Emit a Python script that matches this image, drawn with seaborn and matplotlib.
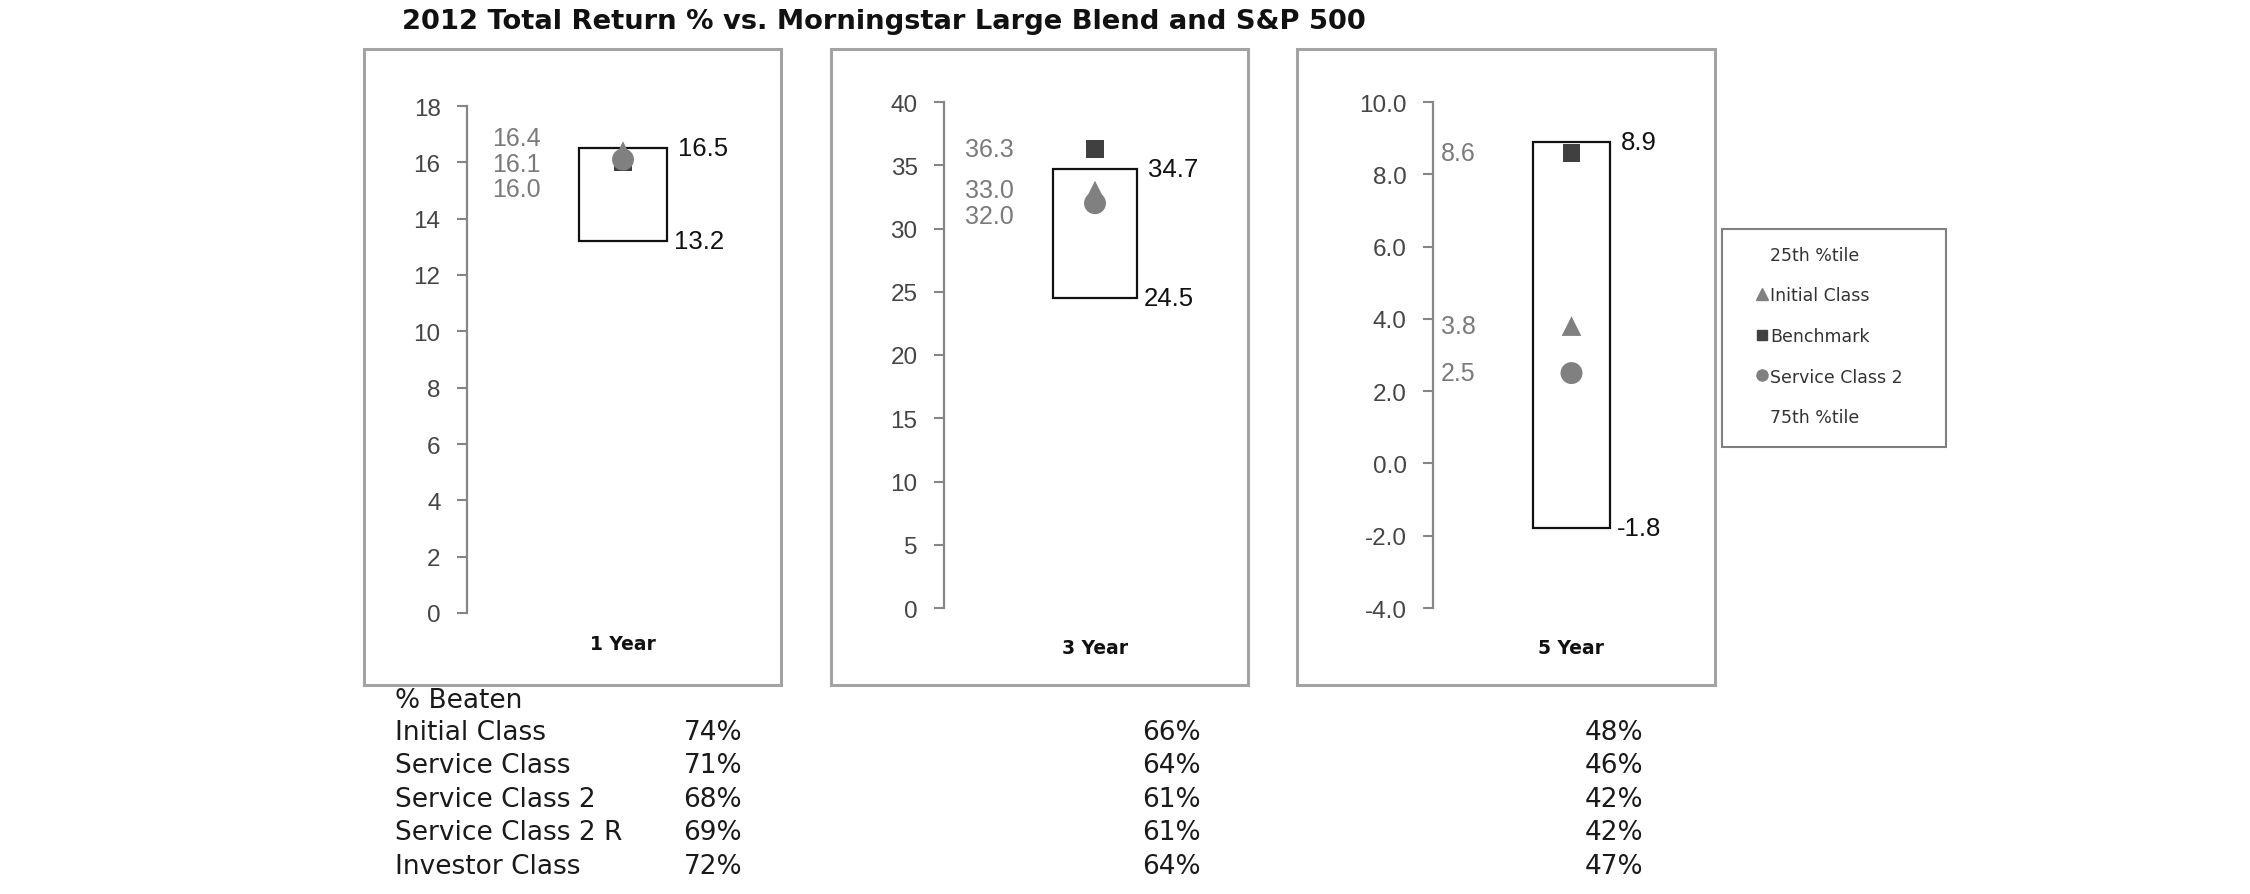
import numpy as np
import pandas as pd
import matplotlib
matplotlib.use("Agg")
import matplotlib.pyplot as plt
import matplotlib.transforms as mtransforms
from matplotlib.patches import Rectangle
from matplotlib.lines import Line2D
import seaborn as sns

# ---------------- data ----------------
title = "2012 Total Return % vs. Morningstar Large Blend and S&P 500"
periods = ["1 Year", "3 Year", "5 Year"]
pct_low = [13.2, 24.5, -1.8]
pct_high = [16.5, 34.7, 8.9]
initial_class = [16.4, 33.0, 3.8]
benchmark = [16.0, 36.3, 8.6]
service_class_2 = [16.1, 32.0, 2.5]
y_min = [0, 0, -4]
y_max = [18, 40, 10]
y_step = [2, 5, 2]
tick_fmt = ["{:.0f}", "{:.0f}", "{:.1f}"]

series_names = ["Initial Class", "Benchmark", "Service Class 2"]
legend_labels = ["25th %tile", "Initial Class", "Benchmark", "Service Class 2", "75th %tile"]

beaten_title = "% Beaten"
beaten_rows = ["Initial Class", "Service Class", "Service Class 2", "Service Class 2 R", "Investor Class"]
beaten_1y = [74, 71, 68, 69, 72]
beaten_3y = [66, 64, 61, 61, 64]
beaten_5y = [48, 46, 42, 42, 47]

# ---------------- style / layout ----------------
W, H = 2250, 895
frames = [(364, 50, 781, 686), (831, 50, 1248, 686), (1297, 50, 1715, 686)]
spine_x = [467, 944, 1433]
axis_top = [107, 103, 103]
axis_bot = [614, 609, 609]
box_cx = [623, 1095, 1571.5]
box_w = [88, 84, 77]
gray_label_x = [492, 965, 1441]
xlabel_y = [644, 648, 648]

palette = {"Initial Class": "#808080", "Benchmark": "#404040", "Service Class 2": "#808080"}
markers = {"Initial Class": "^", "Benchmark": "s", "Service Class 2": "o"}
sizes = {"Initial Class": 200, "Benchmark": 165, "Service Class 2": 250}


def fx(px):
    return px / W


def fy(py):
    return 1 - py / H


def spread(values, gap, bias):
    """De-overlap stacked labels (data units); clusters centred on their mean,
    nudged down by `bias` when several labels share a cluster."""
    order = sorted(range(len(values)), key=lambda k: -values[k])
    clusters = [[k] for k in order]

    def layout(cl):
        n = len(cl)
        c = np.mean([values[k] for k in cl]) - (bias if n > 1 else 0)
        return {k: c + ((n - 1) / 2 - j) * gap for j, k in enumerate(cl)}

    merged = True
    while merged:
        merged = False
        for a in range(len(clusters) - 1):
            pa, pb = layout(clusters[a]), layout(clusters[a + 1])
            if min(pa.values()) - max(pb.values()) < gap - 1e-9:
                clusters[a] = clusters[a] + clusters[a + 1]
                del clusters[a + 1]
                merged = True
                break
    pos = {}
    for cl in clusters:
        pos.update(layout(cl))
    return [pos[k] for k in range(len(values))]


sns.set_style("white")
plt.rcParams["font.family"] = ["Liberation Sans", "DejaVu Sans"]

fig = plt.figure(figsize=(W / 100, H / 100), dpi=100)
fig.patch.set_facecolor("white")

fig.text(fx(402), fy(22), title, ha="left", va="center", fontsize=19.7,
         fontweight="bold", family=["DejaVu Sans"], color="#111111")

for i in range(3):
    fl, ft, fr, fb = frames[i]
    fig.add_artist(Rectangle((fx(fl), fy(fb)), (fr - fl) / W, (fb - ft) / H,
                             transform=fig.transFigure, fill=False,
                             edgecolor="#a3a3a3", linewidth=2.2, zorder=0))
    left = spine_x[i]
    right = fr - 12
    ax = fig.add_axes([fx(left), fy(axis_bot[i]), (right - left) / W,
                       (axis_bot[i] - axis_top[i]) / H])
    ax.patch.set_alpha(0)
    bw = box_w[i]
    ax.set_xlim(-(box_cx[i] - left) / bw, (right - box_cx[i]) / bw)
    ax.set_ylim(y_min[i], y_max[i])

    ax.bar(0, pct_high[i] - pct_low[i], bottom=pct_low[i], width=1,
           color="white", edgecolor="#111111", linewidth=1.6, zorder=2)

    df = pd.DataFrame({
        "x": [0, 0, 0],
        "value": [initial_class[i], benchmark[i], service_class_2[i]],
        "series": series_names,
    })
    sns.scatterplot(data=df, x="x", y="value", hue="series", style="series",
                    size="series", palette=palette, markers=markers, sizes=sizes,
                    linewidth=0, legend=False, ax=ax, zorder=3)

    ticks = np.arange(y_min[i], y_max[i] + y_step[i] / 2, y_step[i])
    ax.set_yticks(ticks)
    ax.set_yticklabels([tick_fmt[i].format(t) for t in ticks])
    ax.set_xticks([])
    ax.set_xlabel("")
    ax.set_ylabel("")
    for s in ["top", "right", "bottom"]:
        ax.spines[s].set_visible(False)
    ax.spines["left"].set_color("#868686")
    ax.spines["left"].set_linewidth(1.6)
    ax.tick_params(axis="y", direction="out", length=7, width=1.5, color="#868686",
                   labelsize=17.5, labelcolor="#454545", pad=12, left=True)

    # percentile labels
    ax.annotate(f"{pct_high[i]:.1f}", xy=(0.5, pct_high[i]), xytext=(8, 0),
                textcoords="offset points", ha="left", va="center",
                fontsize=18.5, color="#111111")
    ax.annotate(f"{pct_low[i]:.1f}", xy=(0.5, pct_low[i]), xytext=(5, 0),
                textcoords="offset points", ha="left", va="center",
                fontsize=18.5, color="#111111")

    # gray value labels
    ppu = (axis_bot[i] - axis_top[i]) / (y_max[i] - y_min[i])
    vals = [initial_class[i], benchmark[i], service_class_2[i]]
    ys = spread(vals, 25.5 / ppu, 6 / ppu)
    xl = (gray_label_x[i] - box_cx[i]) / bw
    for v, yv in zip(vals, ys):
        ax.text(xl, yv, f"{v:.1f}", ha="left", va="center", fontsize=18,
                color="#7a7a7a")

    trans = mtransforms.blended_transform_factory(ax.transData, fig.transFigure)
    ax.text(0, fy(xlabel_y[i]), periods[i], transform=trans, ha="center",
            va="center", fontsize=13.5, fontweight="bold",
            family=["DejaVu Sans"], color="#111111")

# legend
handles = [
    Line2D([], [], linestyle="none"),
    Line2D([], [], linestyle="none", marker="^", markersize=8, color="#808080"),
    Line2D([], [], linestyle="none", marker="s", markersize=7, color="#404040"),
    Line2D([], [], linestyle="none", marker="o", markersize=8, color="#808080"),
    Line2D([], [], linestyle="none"),
]
fig.legend(handles=handles, labels=legend_labels, loc="center left",
           bbox_to_anchor=(fx(1757), fy(337)), frameon=False,
           prop={"family": "DejaVu Sans", "size": 12.5},
           handlelength=0.6, handletextpad=0.15, labelspacing=1.3,
           borderpad=0, borderaxespad=0, labelcolor="#333333")
fig.add_artist(Rectangle((fx(1722), fy(448)), (1946 - 1722) / W, (448 - 230) / H,
                         transform=fig.transFigure, fill=False,
                         edgecolor="#7f7f7f", linewidth=1.5))

# % beaten table
tprops = dict(fontsize=19, family=["DejaVu Sans"], color="#1a1a1a", va="center")
fig.text(fx(395), fy(701), beaten_title, ha="left", **tprops)
row_y0, row_dy = 733, 33.5
for r, lab in enumerate(beaten_rows):
    y = fy(row_y0 + r * row_dy)
    fig.text(fx(395), y, lab, ha="left", **tprops)
    fig.text(fx(742), y, f"{beaten_1y[r]}%", ha="right", **tprops)
    fig.text(fx(1201), y, f"{beaten_3y[r]}%", ha="right", **tprops)
    fig.text(fx(1643), y, f"{beaten_5y[r]}%", ha="right", **tprops)

fig.savefig("out.png", dpi=100)
